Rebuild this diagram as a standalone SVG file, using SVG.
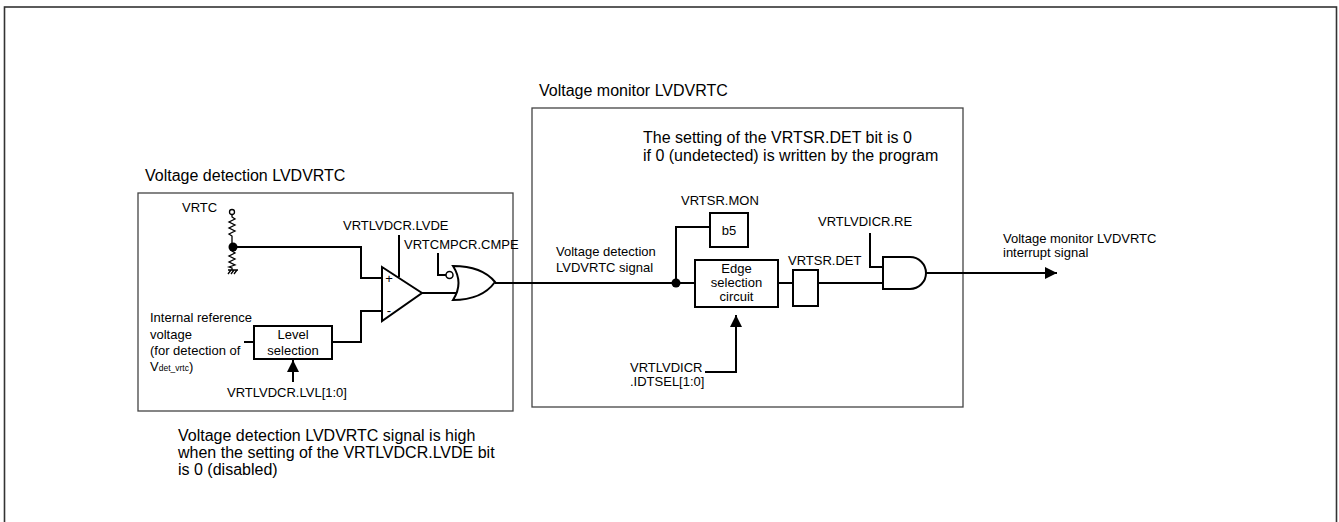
<svg xmlns="http://www.w3.org/2000/svg" width="1339" height="522" viewBox="0 0 1339 522">
<style>
text{font-family:"Liberation Sans",Arial,sans-serif;fill:#000}
.lbl{font-size:13px}
.big{font-size:16px}
.mid{text-anchor:middle}
.box{fill:none;stroke:#444;stroke-width:1.3}
.w{fill:none;stroke:#000;stroke-width:2}
.blk{fill:#fff;stroke:#000;stroke-width:2}
.thin{fill:none;stroke:#000;stroke-width:1.3}
</style>
<defs>
<marker id="ah" viewBox="0 0 10 10" refX="10" refY="5" markerWidth="14" markerHeight="12" markerUnits="userSpaceOnUse" orient="auto">
<path d="M0,0 L10,5 L0,10 Z" fill="#000"/>
</marker>
</defs>
<rect x="4.5" y="7" width="1332" height="540" fill="none" stroke="#333" stroke-width="1.6"/>

<g id="left-block">
<text class="big" x="145" y="181">Voltage detection LVDVRTC</text>
<rect class="box" x="138" y="193" width="375" height="218"/>
</g>
<g id="right-block">
<text class="big" x="539" y="96">Voltage monitor LVDVRTC</text>
<rect class="box" x="532" y="108" width="431" height="299"/>
<text class="big" x="643" y="143">The setting of the VRTSR.DET bit is 0</text>
<text class="big" x="643" y="161">if 0 (undetected) is written by the program</text>
</g>

<g id="vrtc-divider">
<text class="lbl" x="182" y="212">VRTC</text>
<circle cx="232" cy="212" r="2.5" class="thin" fill="#fff"/>
<path class="thin" d="M232,214.5 V217 l3,2 l-6,3 l6,3 l-6,3 l6,3 l-6,3 l3,2 V247 M232,247 V251 l3,2 l-6,3 l6,3 l-6,3 l6,3 l-6,2 l3,1 V270"/>
<path class="thin" d="M228,270 H238 M228,274 l3,-4 M231,274 l3,-4 M234,274 l3,-4"/>
<circle cx="233" cy="247" r="4.5" fill="#000"/>
</g>

<g id="comparator">
<path class="blk" d="M382,267 L422,293 L382,321 Z"/>
<text class="lbl" x="389" y="283" text-anchor="middle">+</text>
<text class="lbl" x="389" y="315" text-anchor="middle">-</text>
<text class="lbl" x="343" y="230">VRTLVDCR.LVDE</text>
</g>

<g id="or-gate">
<path class="blk" d="M453,266 Q482,266 495,282 Q482,300 453,300 Q464,283 453,266 Z"/>
<circle cx="449.5" cy="275" r="3.5" fill="#fff" stroke="#000" stroke-width="1.5"/>
<text class="lbl" x="404" y="249">VRTCMPCR.CMPE</text>
</g>

<g id="level-selection">
<rect class="blk" x="254" y="326" width="78" height="33"/>
<text class="lbl mid" x="293" y="339">Level</text>
<text class="lbl mid" x="293" y="355">selection</text>
<text class="lbl" x="150" y="322">Internal reference</text>
<text class="lbl" x="150" y="339">voltage</text>
<text class="lbl" x="150" y="355">(for detection of</text>
<text class="lbl" x="150" y="371">V<tspan font-size="8.5">det_vrtc</tspan>)</text>
<text class="lbl" x="227" y="397">VRTLVDCR.LVL[1:0]</text>
</g>

<g id="mon-bit">
<text class="lbl" x="681" y="205">VRTSR.MON</text>
<rect class="blk" x="710" y="213" width="38" height="34"/>
<text class="lbl mid" x="729" y="235">b5</text>
</g>

<g id="edge-selection">
<rect class="blk" x="695" y="260" width="83" height="47"/>
<text class="lbl mid" x="736.5" y="273">Edge</text>
<text class="lbl mid" x="736.5" y="287">selection</text>
<text class="lbl mid" x="736.5" y="301">circuit</text>
<text class="lbl" x="630" y="372">VRTLVDICR</text>
<text class="lbl" x="630" y="386">.IDTSEL[1:0]</text>
</g>

<g id="det-flag">
<rect class="blk" x="793" y="270" width="25" height="36"/>
<text class="lbl" x="788" y="265">VRTSR.DET</text>
</g>

<g id="and-gate">
<path class="blk" d="M883,257 H910 A16,16 0 0 1 910,289 H883 Z"/>
<text class="lbl" x="818" y="226">VRTLVDICR.RE</text>
</g>

<g id="output-label">
<text class="lbl" x="1003" y="243">Voltage monitor LVDVRTC</text>
<text class="lbl" x="1003" y="257">interrupt signal</text>
</g>

<g id="signal-label">
<text class="lbl" x="556" y="256">Voltage detection</text>
<text class="lbl" x="556" y="272">LVDVRTC signal</text>
</g>

<g id="note">
<text class="big" x="178" y="441">Voltage detection LVDVRTC signal is high</text>
<text class="big" x="178" y="458">when the setting of the VRTLVDCR.LVDE bit</text>
<text class="big" x="178" y="475">is 0 (disabled)</text>
</g>

<g id="connectors">
<path class="w" d="M237,247 H361 V278 H382"/>
<path class="w" d="M332,342 H361 V311 H382"/>
<path class="w" d="M244,342 H254"/>
<path class="w" d="M293,382 V360" marker-end="url(#ah)"/>
<path class="w" d="M399,235 V277"/>
<path class="w" d="M422,293 H457"/>
<path class="w" d="M438,253 V275 H446"/>
<path class="w" d="M495,283 H695"/>
<circle cx="676" cy="283" r="4.5" fill="#000"/>
<path class="w" d="M676,283 V227 H710"/>
<path class="w" d="M705,372 H736 V315" marker-end="url(#ah)"/>
<path class="w" d="M778,283 H793"/>
<path class="w" d="M818,283 H883"/>
<path class="w" d="M870,233 V267 H883"/>
<path class="w" d="M926,273 H1057" marker-end="url(#ah)"/>
</g>
</svg>
